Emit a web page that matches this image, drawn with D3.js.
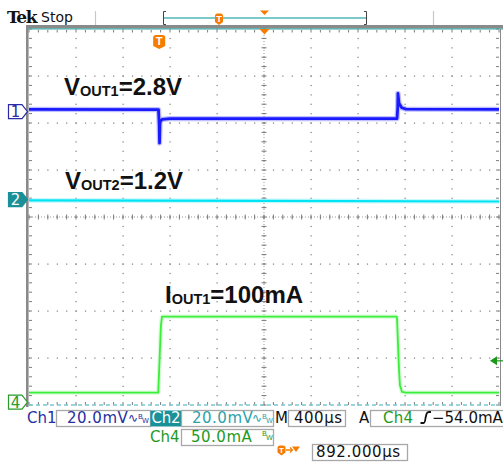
<!DOCTYPE html>
<html>
<head>
<meta charset="utf-8">
<script src="https://cdn.jsdelivr.net/npm/d3@7"></script>
<style>
  body { margin: 0; background: #fff; }
  svg { display: block; }
</style>
</head>
<body>
<svg id="scope" width="503" height="464"></svg>
<script>
// time in µs relative to trigger, screen spans 10 div x 400 µs
const timeWindow = [-1108, 2892];
const timePerDiv = 400;

// CH1 (20 mV/div), values in mV relative to ch1 ground marker
const ch1Time = [-1108, -6, 0, 3, 7, 24, 92, 2024, 2030, 2032, 2041, 2064, 2101, 2892];
const ch1mV = [1.0, 0.9, -5.7, -13.3, -4.4, -3.3, -2.9, -2.9, 1.6, 7.8, 3.6, 1.7, 1.1, 1.0];

// CH2 (20 mV/div)
const ch2Time = [-1108, 892, 2892];
const ch2mV = [-0.3, -0.5, -0.8];

// CH4 (50 mA/div)
const ch4Time = [-1108, -8, 3, 15, 24, 2021, 2024, 2041, 2049, 2066, 2101, 2892];
const ch4mA = [10.2, 10.2, 45, 82, 91, 91, 89, 35, 18, 11, 10.2, 10.2];

// channel ground marker positions (divisions from screen centre) and scales
const chPos = { ch1: 2.24, ch2: 0.37, ch4: -3.94 };
const chScale = { ch1: 20, ch2: 20, ch4: 50 };
const trigLevelMA = 44;

const labels = [
  { main: 'V', sub: 'OUT1', rest: '=2.8V', x: 64, y: 94.5 },
  { main: 'V', sub: 'OUT2', rest: '=1.2V', x: 65, y: 189 },
  { main: 'I', sub: 'OUT1', rest: '=100mA', x: 165, y: 303 }
];

const svg = d3.select('#scope');
const X0 = 29, X1 = 499, Y0 = 29, Y1 = 405;
const x = d3.scaleLinear().domain(timeWindow).range([X0, X1]);
const yDiv = d3.scaleLinear().domain([-4, 4]).range([Y1, Y0]);
const yCh = (ch) => (v) => yDiv(chPos[ch] + v / chScale[ch]);

const divW = (X1 - X0) / 10, divH = (Y1 - Y0) / 8;
const gridCol = '#7c7c7c';
const g = svg.append('g').attr('class', 'grid');

// dotted graticule
const majorX = d3.range(1, 10).map((i) => X0 + i * divW);
const majorY = d3.range(1, 8).map((i) => Y0 + i * divH);
const minorX = d3.range(0, 51).map((i) => X0 + i * divW / 5);
const minorY = d3.range(0, 41).map((i) => Y0 + i * divH / 5);

majorX.forEach((gx) => {
  minorY.forEach((gy) => {
    g.append('rect').attr('x', gx - 0.5).attr('y', gy - 0.5)
      .attr('width', 1.2).attr('height', 1.2).attr('fill', gridCol);
  });
});
majorY.forEach((gy) => {
  minorX.forEach((gx) => {
    g.append('rect').attr('x', gx - 0.5).attr('y', gy - 0.5)
      .attr('width', 1.2).attr('height', 1.2).attr('fill', gridCol);
  });
});

// centre cross with ticks
const cx = X0 + 5 * divW, cy = Y0 + 4 * divH;
g.append('line').attr('x1', cx).attr('x2', cx).attr('y1', Y0).attr('y2', Y1)
  .attr('stroke', '#999').attr('stroke-dasharray', '1,2');
g.append('line').attr('x1', X0).attr('x2', X1).attr('y1', cy).attr('y2', cy)
  .attr('stroke', '#999').attr('stroke-dasharray', '1,2');
minorY.forEach((gy) => {
  g.append('line').attr('x1', cx - 2.5).attr('x2', cx + 2.5).attr('y1', gy).attr('y2', gy)
    .attr('stroke', gridCol);
  g.append('line').attr('x1', X0).attr('x2', X0 + 3).attr('y1', gy).attr('y2', gy)
    .attr('stroke', gridCol);
  g.append('line').attr('x1', X1 - 3).attr('x2', X1).attr('y1', gy).attr('y2', gy)
    .attr('stroke', gridCol);
});
minorX.forEach((gx) => {
  g.append('line').attr('x1', gx).attr('x2', gx).attr('y1', cy - 2.5).attr('y2', cy + 2.5)
    .attr('stroke', gridCol);
  g.append('line').attr('x1', gx).attr('x2', gx).attr('y1', Y0 + 1).attr('y2', Y0 + 3.5)
    .attr('stroke', gridCol);
  g.append('line').attr('x1', gx).attr('x2', gx).attr('y1', Y1 - 3).attr('y2', Y1)
    .attr('stroke', gridCol);
});

// frame
svg.append('rect').attr('x', 26).attr('y', 25).attr('width', 477).attr('height', 3.2).attr('fill', '#8a8a8a');
svg.append('line').attr('x1', 27).attr('x2', 503).attr('y1', 28.8).attr('y2', 28.8)
  .attr('stroke', '#3aa0a0').attr('stroke-width', 1.2);
svg.append('rect').attr('x', 26).attr('y', 25).attr('width', 2.6).attr('height', 382).attr('fill', '#8a8a8a');
svg.append('line').attr('x1', 500.5).attr('x2', 500.5).attr('y1', 29).attr('y2', 406)
  .attr('stroke', '#8a8a8a').attr('stroke-width', 1);
svg.append('line').attr('x1', 29).attr('x2', 500).attr('y1', Y1).attr('y2', Y1)
  .attr('stroke', '#78c8d4').attr('stroke-width', 1.6).attr('stroke-dasharray', '4,3');

// traces
function trace(times, vals, ch, color, halo, width) {
  const pts = times.map((t, i) => [t, vals[i]]);
  const yf = yCh(ch);
  const line = d3.line().x((d) => x(d[0])).y((d) => yf(d[1]));
  if (halo) {
    svg.append('path').datum(pts).attr('d', line).attr('fill', 'none')
      .attr('stroke', halo).attr('stroke-width', width + 2.5).attr('opacity', 0.45)
      .attr('stroke-linejoin', 'round');
  }
  svg.append('path').datum(pts).attr('d', line).attr('fill', 'none')
    .attr('stroke', color).attr('stroke-width', width).attr('stroke-linejoin', 'round');
}
trace(ch2Time, ch2mV, 'ch2', '#00e4f4', '#80f0fa', 2.2);
trace(ch4Time, ch4mA, 'ch4', '#3cee3c', '#a8f8a8', 1.8);
trace(ch1Time, ch1mV, 'ch1', '#1a1aff', '#7070ff', 2.8);

// channel ground markers
function chMarker(ch, txt, fill, stroke, textCol) {
  const c = yDiv(chPos[ch]);
  svg.append('path')
    .attr('d', `M8.5,${c - 7} L22,${c - 7} L27.5,${c} L22,${c + 7} L8.5,${c + 7} Z`)
    .attr('fill', fill).attr('stroke', stroke).attr('stroke-width', 1.2);
  svg.append('text').attr('x', 15.5).attr('y', c + 5.5).attr('text-anchor', 'middle')
    .attr('font-family', 'DejaVu Sans, sans-serif').attr('font-size', 15)
    .attr('fill', textCol).text(txt);
}
chMarker('ch1', '1', '#fff', '#2a2aa8', '#2a2aa8');
chMarker('ch2', '2', '#1a9098', '#1a9098', '#fff');
chMarker('ch4', '4', '#fff', '#2a9a2a', '#2a9a2a');

// trigger level arrow (ch4)
const tly = yCh('ch4')(trigLevelMA);
svg.append('path').attr('d', `M490,${tly} L497,${tly - 4.5} L497,${tly + 4.5} Z`).attr('fill', '#1a9a1a');
svg.append('line').attr('x1', 496).attr('x2', 503).attr('y1', tly).attr('y2', tly)
  .attr('stroke', '#1a9a1a').attr('stroke-width', 1.2);

// orange T markers
const orange = '#f57c00';
function tMarker(mx, top, w, h) {
  const r = 2.5;
  svg.append('path')
    .attr('d', `M${mx - w / 2},${top + r} Q${mx - w / 2},${top} ${mx - w / 2 + r},${top}
      L${mx + w / 2 - r},${top} Q${mx + w / 2},${top} ${mx + w / 2},${top + r}
      L${mx + w / 2},${top + h - 3} L${mx},${top + h} L${mx - w / 2},${top + h - 3} Z`)
    .attr('fill', orange);
  svg.append('text').attr('x', mx).attr('y', top + h * 0.72).attr('text-anchor', 'middle')
    .attr('font-family', 'Liberation Sans, Arial, sans-serif').attr('font-weight', 'bold')
    .attr('font-size', h * 0.8).attr('fill', '#fff').text('T');
}
tMarker(x(0), 35, 12, 14);
function triDown(mx, top, w, h) {
  svg.append('path').attr('d', `M${mx - w / 2},${top} L${mx + w / 2},${top} L${mx},${top + h} Z`)
    .attr('fill', orange);
}
triDown(264.5, 29, 10, 5.5);

// header
svg.append('text').attr('x', 7).attr('y', 23).attr('font-family', 'DejaVu Serif, serif')
  .attr('font-weight', 'bold').attr('font-size', 17).attr('letter-spacing', -1.4)
  .attr('fill', '#111').text('Tek');
svg.append('text').attr('x', 41).attr('y', 22).attr('font-family', 'DejaVu Sans, sans-serif')
  .attr('font-size', 14).attr('fill', '#111').text('Stop');
[95.5, 433.5].forEach((lx) => {
  svg.append('line').attr('x1', lx).attr('x2', lx).attr('y1', 11).attr('y2', 25)
    .attr('stroke', '#c8c8c8').attr('stroke-width', 1.2);
});
svg.append('line').attr('x1', 164).attr('x2', 366).attr('y1', 18).attr('y2', 18)
  .attr('stroke', '#7cc8c8').attr('stroke-width', 2);
svg.append('path').attr('d', 'M166,11.5 L163.5,11.5 L163.5,24.5 L166,24.5')
  .attr('fill', 'none').attr('stroke', '#444').attr('stroke-width', 1);
svg.append('path').attr('d', 'M364,11.5 L366.5,11.5 L366.5,24.5 L364,24.5')
  .attr('fill', 'none').attr('stroke', '#444').attr('stroke-width', 1);
tMarker(219, 13.5, 8, 11.5);
triDown(264.5, 10.5, 9, 4.5);

// big labels
labels.forEach((l) => {
  const t = svg.append('text').attr('x', l.x).attr('y', l.y)
    .attr('font-family', 'Liberation Sans, Arial, sans-serif').attr('font-weight', 'bold')
    .attr('fill', '#111');
  t.append('tspan').attr('font-size', 24).text(l.main);
  t.append('tspan').attr('font-size', 14.5).attr('dy', 1).text(l.sub);
  t.append('tspan').attr('font-size', 24).attr('dy', -1).text(l.rest);
});

// status bar
const sf = 'DejaVu Sans, sans-serif';
function txt(tx, ty, s, col, size, ls) {
  return svg.append('text').attr('x', tx).attr('y', ty).attr('font-family', sf)
    .attr('font-size', size || 15).attr('letter-spacing', ls == null ? 0.5 : ls)
    .attr('fill', col).text(s);
}
function box(bx, by, bw, bh, fill) {
  svg.append('rect').attr('x', bx + 0.5).attr('y', by + 0.5).attr('width', bw).attr('height', bh)
    .attr('fill', fill || '#fff').attr('stroke', fill ? 'none' : '#a8a8a8').attr('stroke-width', 1.3);
}
function bw(bx, by, col) {
  txt(bx, by, '∿', col, 12, 0);
  txt(bx + 10, by - 3, 'B', col, 7, 0);
  txt(bx + 14, by + 1, 'W', col, 7, 0);
}
const blueTxt = '#2630a0', tealTxt = '#2aa2aa', greenTxt = '#1f9a1f';

box(56, 410, 94, 16);
box(150, 410, 31, 16, '#1a9098');
box(181, 410, 92, 16);
box(288, 410, 57, 16);
box(370, 410, 140, 16);
box(181, 429, 92, 16);
box(312, 444, 95, 16);

txt(27, 423, 'Ch1', blueTxt, 15, 0);
txt(67, 423, '20.0mV', blueTxt);
bw(128, 422, blueTxt);
txt(151.5, 423, 'Ch2', '#fff', 15, -0.3);
txt(192, 423, '20.0mV', tealTxt);
bw(252, 422, tealTxt);
txt(275, 423, 'M', '#111', 15, 0);
txt(294, 423, '400µs', '#111');
txt(359, 423, 'A', '#111', 15, 0);
txt(383, 423, 'Ch4', greenTxt, 15, 0.2);
svg.append('path').attr('d', 'M420.5,423 L423.5,423 Q425,423 425.5,418 L426.5,414 Q427,412 429,412 L431,412')
  .attr('fill', 'none').attr('stroke', '#111').attr('stroke-width', 1.8);
txt(432, 423, '−54.0mA', '#111', 15, 0);

txt(150, 442, 'Ch4', greenTxt, 15, 0);
txt(191, 442, '50.0mA', greenTxt);
txt(262, 436, 'B', greenTxt, 7, 0);
txt(266, 440, 'W', greenTxt, 7, 0);

// row 3: trigger position readout
tMarker(281.5, 445.5, 8, 10);
svg.append('line').attr('x1', 286).attr('x2', 292).attr('y1', 450).attr('y2', 450)
  .attr('stroke', orange).attr('stroke-width', 1.5);
svg.append('path').attr('d', 'M290,447.5 L292.5,450 L290,452.5').attr('fill', 'none')
  .attr('stroke', orange).attr('stroke-width', 1.2);
triDown(296, 446.5, 8, 5.5);
txt(316, 457, '892.000µs', '#111', 15, 0.6);
</script>
</body>
</html>
